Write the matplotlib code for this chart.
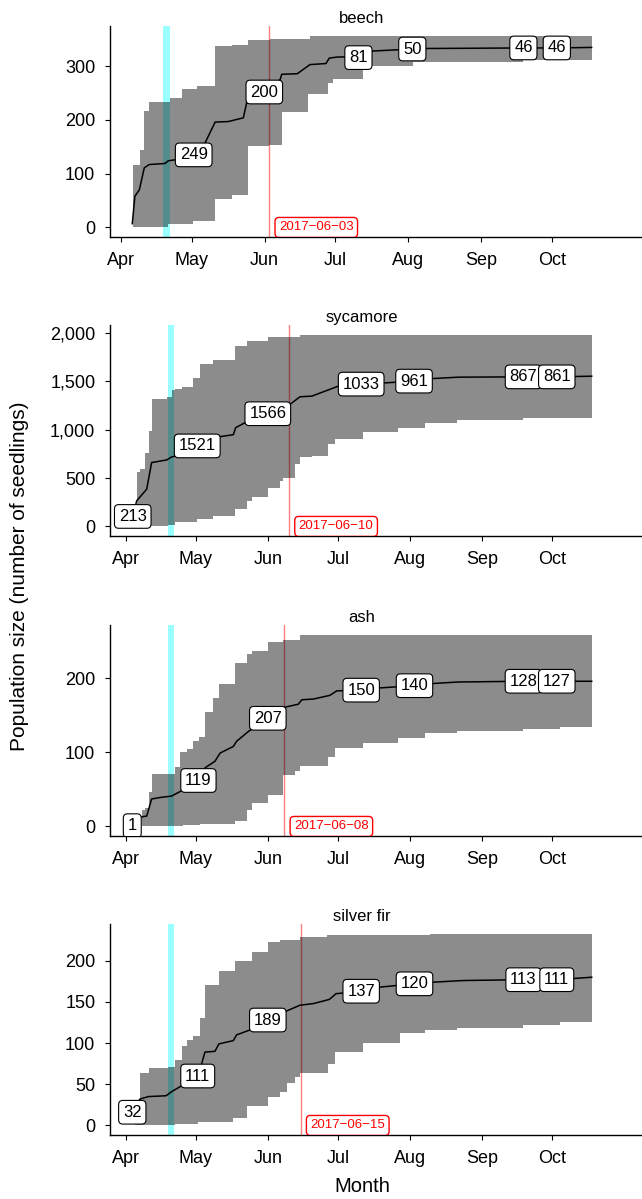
import numpy as np
import matplotlib
matplotlib.use("Agg")
import matplotlib.pyplot as plt
import matplotlib.dates as mdates
from matplotlib.ticker import FuncFormatter, MultipleLocator
from matplotlib.transforms import ScaledTranslation

plt.rcParams['font.family'] = ['Liberation Sans', 'DejaVu Sans']

# days after 2017-04-01
species = ['beech', 'sycamore', 'ash', 'silver fir']
peak_dates = ['2017-06-03', '2017-06-10', '2017-06-08', '2017-06-15']
band_start = 18.0
band_end = 20.8

beech_line_d = [4.8, 5.9, 7.8, 9.9, 12.0, 18.7, 20.1, 23.2, 30.9, 35.7, 40.0, 45.6, 52.0, 53.7, 60.9,
                67.6, 68.3, 74.9, 80.3, 87.1, 88.5, 91.7, 100.9, 105.8, 123.8, 129.9, 171.0, 185.2, 200]
beech_line_v = [7, 58, 70, 111, 117, 119, 124, 126, 135, 157, 196, 197, 204, 238, 252,
                275, 285, 286, 303, 305, 315, 317, 318, 328, 332, 333, 334, 334, 335]
beech_up_d = [5.0, 8.1, 9.9, 12.0, 20.8, 25.8, 32.2, 39.9, 47.0, 54.1, 63.3, 80.3, 200]
beech_up_v = [115.5, 143.5, 216, 233.5, 241, 258, 264, 337, 340, 348, 351.5, 357]
beech_lo_d = [5.0, 20.1, 30.7, 39.9, 47.0, 54.1, 63.0, 68.3, 79.6, 88.1, 90.2, 103.0, 124.2, 171.0, 200]
beech_lo_v = [0, 6, 11, 53, 61, 151, 153, 214, 248, 269, 276, 300, 307, 311]
beech_lab_d = [30.9, 60.9, 100.9, 123.8, 171.0, 185.2]
beech_lab_v = [135, 252, 316, 332, 334, 334]
beech_lab_t = ['249', '200', '81', '50', '46', '46']

syc_line_d = [2.9, 4.6, 8.9, 11.0, 17.5, 19.6, 21.5, 30.6, 40.4, 46.1, 47.1, 51.1, 60.9, 70.4, 74.7,
              79.8, 91.2, 101.0, 112.0, 123.7, 132.0, 142.8, 170.7, 185.0, 200]
syc_line_v = [103, 265, 385, 660, 687, 718, 729, 832, 928, 948, 1021, 1072, 1165, 1261, 1340,
              1347, 1450, 1471, 1485, 1502, 1529, 1543, 1546, 1546, 1553]
syc_up_d = [4.6, 6.0, 8.2, 10.0, 11.0, 17.5, 19.6, 21.0, 23.9, 28.9, 31.8, 37.5, 46.8, 51.8, 61.1, 74.7, 200]
syc_up_v = [564, 591, 763, 986, 1320, 1340, 1409, 1416, 1443, 1536, 1674, 1725, 1863, 1914, 1955, 1983]
syc_lo_d = [4.6, 18.2, 21.0, 30.4, 37.5, 46.8, 51.8, 54.0, 61.1, 66.1, 67.6, 72.6, 74.7, 79.8, 86.9,
            89.8, 101.9, 117.0, 128.4, 142.0, 170.7, 200]
syc_lo_v = [0, 14, 41, 76, 110, 179, 265, 299, 392, 471, 505, 643, 718, 729, 849,
            907, 976, 1021, 1065, 1096, 1124]
syc_lab_d = [2.9, 30.6, 60.9, 101.0, 123.7, 170.7, 185.0]
syc_lab_v = [103, 832, 1165, 1471, 1502, 1546, 1546]
syc_lab_t = ['213', '1521', '1566', '1033', '961', '867', '861']

ash_line_d = [2.7, 6.9, 8.9, 11.0, 14.6, 19.6, 23.2, 31.1, 33.9, 38.2, 40.4, 46.1, 47.5, 52.5, 60.9,
              68.3, 74.0, 75.5, 80.5, 87.6, 90.5, 101.0, 109.1, 123.9, 132.0, 142.8, 170.7, 185.0, 200]
ash_line_v = [1, 13, 14, 37, 39, 41, 47, 62, 79, 88, 99, 108, 115, 128, 146,
              161, 165, 171, 172, 177, 183, 184, 187, 190, 193, 195, 196, 196, 196]
ash_up_d = [6.7, 8.2, 10.0, 11.0, 21.0, 23.2, 26.1, 28.9, 31.5, 33.9, 37.5, 40.1, 46.8, 51.8, 54.0,
            61.1, 67.6, 74.7, 200]
ash_up_v = [22.5, 24.7, 45.8, 71, 80, 100, 104, 115, 121, 154, 173, 192, 220, 233, 237, 249, 252, 259]
ash_lo_d = [6.7, 24.6, 31.8, 46.8, 51.8, 54.0, 61.1, 67.6, 72.6, 74.7, 86.9, 89.8, 101.9, 117.0, 128.4,
            142.0, 170.7, 186.4, 200]
ash_lo_v = [1, 2, 3.6, 7, 22, 32, 43, 69, 75, 81, 94, 106, 113, 120, 126, 129, 132, 134]
ash_lab_d = [2.7, 31.1, 60.9, 101.0, 123.9, 170.7, 185.0]
ash_lab_v = [1, 62, 146, 184, 190, 196, 196]
ash_lab_t = ['1', '119', '207', '150', '140', '128', '127']

fir_line_d = [2.7, 6.0, 9.6, 17.2, 19.6, 23.2, 30.8, 32.5, 33.9, 38.2, 39.9, 46.1, 47.5, 53.3, 60.9,
              69.0, 74.7, 80.5, 87.3, 90.2, 101.0, 109.1, 123.9, 132.0, 144.9, 170.7, 185.0, 200]
fir_line_v = [16, 32, 35, 36, 41, 47, 60, 75, 89, 90, 99, 103, 110, 116, 128,
              139, 146, 148, 153, 160, 163, 168, 172, 174, 176, 177, 177, 180]
fir_up_d = [3.9, 6.0, 10.0, 18.2, 21.0, 23.9, 26.1, 28.9, 31.8, 33.9, 40.1, 46.8, 54.0, 61.1, 66.1,
            74.7, 86.2, 130.6, 200]
fir_up_v = [31, 64, 70, 71, 79, 96, 104, 108, 131, 170, 188, 200, 211, 223, 225, 229, 231, 233]
fir_lo_d = [3.9, 21.0, 31.1, 46.1, 51.8, 61.1, 66.1, 69.0, 72.6, 74.7, 86.9, 89.8, 101.9, 117.7, 128.4,
            142.0, 170.7, 186.4, 200]
fir_lo_v = [0, 1.6, 4.5, 8.5, 23, 34, 41, 51, 59, 64, 75, 89, 100, 112, 116, 118, 122, 126]
fir_lab_d = [2.7, 30.8, 60.9, 101.0, 123.9, 170.7, 185.0]
fir_lab_v = [16, 60, 128, 163, 172, 177, 177]
fir_lab_t = ['32', '111', '189', '137', '120', '113', '111']

y_steps = [100, 500, 100, 50]

panels = [
    (beech_line_d, beech_line_v, beech_up_d, beech_up_v, beech_lo_d, beech_lo_v, beech_lab_d, beech_lab_v, beech_lab_t),
    (syc_line_d, syc_line_v, syc_up_d, syc_up_v, syc_lo_d, syc_lo_v, syc_lab_d, syc_lab_v, syc_lab_t),
    (ash_line_d, ash_line_v, ash_up_d, ash_up_v, ash_lo_d, ash_lo_v, ash_lab_d, ash_lab_v, ash_lab_t),
    (fir_line_d, fir_line_v, fir_up_d, fir_up_v, fir_lo_d, fir_lo_v, fir_lab_d, fir_lab_v, fir_lab_t),
]

base = mdates.datestr2num('2017-04-01')


def steps(xb, yv):
    xb = base + np.asarray(xb, float)
    xs = np.repeat(xb, 2)[1:-1]
    ys = np.repeat(np.asarray(yv, float), 2)
    return xs, ys


W, H = 642, 1199
fig = plt.figure(figsize=(W / 100, H / 100), dpi=100)
tops = [26, 325, 625, 924]
ph = 211
xlims = [(-4.67, 221.4), (-6.87, 221.6), (-6.87, 221.6), (-6.87, 221.6)]

for i, (ld, lv, ud, uv, dd, dv, bd, bv, bt) in enumerate(panels):
    ax = fig.add_axes([110 / W, 1 - (tops[i] + ph) / H, 532 / W, ph / H])
    ymax = max(uv)
    ax.set_ylim(-0.05 * ymax, 1.05 * ymax)
    ax.set_xlim(base + xlims[i][0], base + xlims[i][1])

    ax.axvspan(base + band_start, base + band_end, color='cyan', alpha=0.4, lw=0, zorder=1)
    peak = mdates.datestr2num(peak_dates[i])
    ax.axvline(peak, color='red', alpha=0.5, lw=1, zorder=1)

    ux, uy = steps(ud, uv)
    lx, ly = steps(dd, dv)
    ax.fill(np.concatenate([ux, lx[::-1]]), np.concatenate([uy, ly[::-1]]),
            color='black', alpha=0.45, lw=0, zorder=2)
    ax.plot(base + np.array(ld), lv, color='black', lw=1.1, zorder=3)

    for d, v, t in zip(bd, bv, bt):
        ax.text(base + d, v, t, ha='center', va='center', fontsize=12, zorder=5, clip_on=True,
                bbox=dict(boxstyle='round,pad=0.26,rounding_size=0.25', fc='white', ec='black', lw=0.8))

    off = ax.transData + ScaledTranslation(7 / 72, 0, fig.dpi_scale_trans)
    ax.text(peak, 0, peak_dates[i].replace('-', '\u2212'), transform=off, ha='left', va='center',
            fontsize=9.5, color='red', zorder=6, clip_on=True,
            bbox=dict(boxstyle='round,pad=0.3,rounding_size=0.3', fc='white', ec='red', lw=1))

    ax.set_title(species[i], x=0.473, pad=2, fontsize=12)
    ax.xaxis.set_major_locator(mdates.MonthLocator(bymonth=range(4, 11)))
    ax.xaxis.set_major_formatter(mdates.DateFormatter('%b'))
    ax.yaxis.set_major_locator(MultipleLocator(y_steps[i]))
    ax.yaxis.set_major_formatter(FuncFormatter(lambda v, p: f'{v:,.0f}'))
    ax.tick_params(length=3.6, width=0.8, labelsize=13, colors='black')
    ax.tick_params(axis='x', pad=7.5)
    ax.tick_params(axis='y', pad=7)
    for s in ['top', 'right']:
        ax.spines[s].set_visible(False)
    for s in ['left', 'bottom']:
        ax.spines[s].set_linewidth(1.0)
    ax.set_facecolor('white')

fig.text(20 / W, 1 - 576 / H, 'Population size (number of seedlings)', rotation=90,
         ha='center', va='center', fontsize=15)
fig.text(362 / W, 1 - 1187 / H, 'Month', ha='center', va='center', fontsize=14.5)

fig.savefig('out.png', dpi=100)
